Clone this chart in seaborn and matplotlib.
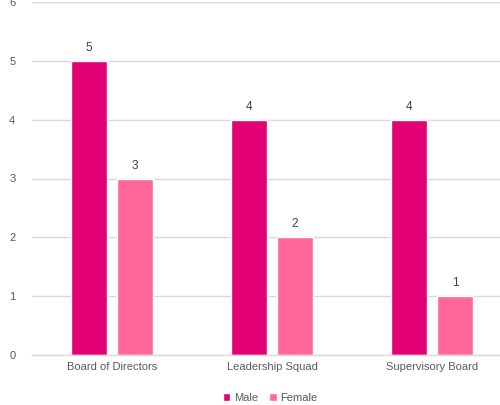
import matplotlib
matplotlib.use("Agg")
import matplotlib.pyplot as plt
import seaborn as sns
import pandas as pd
from matplotlib.patches import Patch

categories = ["Board of Directors", "Leadership Squad", "Supervisory Board"]
male = [5, 4, 4]
female = [3, 2, 1]
series = ["Male", "Female"]
colors = {"Male": "#E20074", "Female": "#FF6699"}

df = pd.DataFrame({
    "Category": categories * 2,
    "Gender": ["Male"] * len(categories) + ["Female"] * len(categories),
    "Count": male + female,
})

sns.set_theme(style="white")
plt.rcParams["font.family"] = ["Liberation Sans", "DejaVu Sans"]

fig = plt.figure(figsize=(5.0, 4.05), dpi=100)
ax = fig.add_axes([32 / 500, 1 - 355 / 405, 480 / 500, 353 / 405])

sns.barplot(data=df, x="Category", y="Count", hue="Gender", order=categories,
            hue_order=series, palette=colors, width=0.575, gap=0.217,
            ax=ax, legend=False, saturation=1)

ax.set_ylim(0, 6)
ax.set_xlim(-0.5, 2.5)
ax.set_yticks(range(0, 7))
ax.yaxis.grid(True, color="#D9D9D9", linewidth=1)
ax.set_axisbelow(True)
for s in ["top", "right", "left"]:
    ax.spines[s].set_visible(False)
ax.spines["bottom"].set_color("#D9D9D9")
ax.spines["bottom"].set_linewidth(1)
ax.tick_params(axis="both", length=0, labelsize=8, colors="#595959")
ax.tick_params(axis="y", pad=12)
ax.tick_params(axis="x", pad=5)
ax.set_xlabel("")
ax.set_ylabel("")

for cont in ax.containers:
    ax.bar_label(cont, fmt="%d", padding=5, fontsize=8.5, color="#404040")

handles = [Patch(facecolor=colors[s], label=s) for s in series]
fig.legend(handles=handles, loc="center", bbox_to_anchor=(270 / 500, 1 - 398 / 405),
           ncol=2, frameon=False, fontsize=8, handlelength=0.7, handleheight=0.7,
           handletextpad=0.3, columnspacing=1.0, labelcolor="#595959")

fig.savefig("out.png", dpi=100)
